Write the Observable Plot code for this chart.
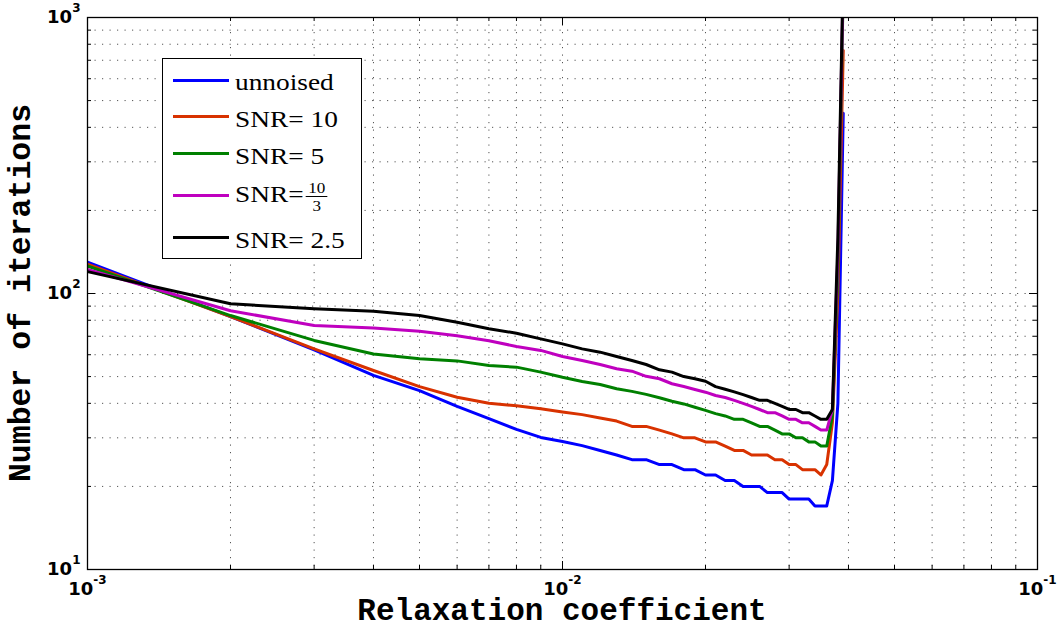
<!DOCTYPE html>
<html><head><meta charset="utf-8">
<script src="https://cdn.jsdelivr.net/npm/d3@7"></script>
<script src="https://cdn.jsdelivr.net/npm/@observablehq/plot@0.6"></script>
<style>
body{margin:0;background:#fff;}
#wrap{position:relative;width:1064px;height:630px;}
#legend{position:absolute;left:162px;top:58px;width:200px;height:201px;border:1.5px solid #000;background:#fff;box-sizing:border-box;font-family:"Liberation Serif","Times New Roman",serif;font-size:24px;color:#000;}
.row{position:absolute;left:9.5px;height:30px;width:185px;}
.sw{position:absolute;left:0;top:13.5px;width:56px;height:3px;}
.lab{position:absolute;left:62px;top:2px;line-height:30px;white-space:nowrap;transform:scaleX(1.14);transform-origin:0 50%;}
.lab.fr{top:-1px;}
.frac{display:inline-block;vertical-align:middle;text-align:center;font-size:15px;line-height:14px;margin-left:2px;}
.frac span{display:block;}
.frac .num{border-bottom:1.4px solid #000;padding:0 2px 1px;}
.frac .den{padding-top:2px;}
</style></head>
<body><div id="wrap"></div>
<script>
// ---- data ----
const relax = [0.001,0.002,0.003,0.004,0.005,0.006,0.007,0.008,0.009,0.010,
  0.011,0.012,0.013,0.014,0.015,0.016,0.017,0.018,0.019,0.020,
  0.021,0.022,0.023,0.024,0.025,0.026,0.027,0.028,0.029,0.030,
  0.031,0.032,0.033,0.034,0.035,0.036,0.037,0.038,0.039];
const unnoised = [130,82.5,62.5,50.5,44.5,39,35.2,32.2,30.1,29.1,
  28.1,27,26,25,25,24,24,23,23,22,
  22,21,21,20,20,20,19,19,19,18,
  18,18,18,17,17,17,21,40,450];
const snr10 = [127.7,82.5,63,52.6,46,42.1,40,39.2,38.2,37.2,
  36.4,35.4,34.5,33,33,32,31,30,30,29,
  29,28,27,27,26,26,26,25,25,24,
  24,23,23,23,22,24,34,100,760];
const snr5 = [125.8,83.2,67.6,60.4,58,57,54.8,54.1,51.9,49.7,
  48,46.8,45.2,44.2,43.1,41.9,40.7,39.8,38.7,37.7,
  36.7,36,35,35,34,33,33,32,31,31,
  30,30,29,29,28,28,36,120,1300];
const snr10over3 = [122.3,86.6,76.6,75,73,70.3,67.4,64.3,62.2,59.1,
  57.2,55.3,53.4,52.3,50.1,49.1,47.1,46,44.9,43.9,
  42.7,42,41,40,39,38,37,37,36,35,
  35,34,34,33,32,32,38,140,1400];
const snr25 = [120,91.8,88,86.3,83.2,78.7,74.5,71.8,68.5,65.7,
  63,61.3,59.1,57.2,55.3,52.9,51.9,50,49.1,48.1,
  46,45,44,43,42,41,41,40,39,38,
  38,37,37,36,35,35,38,160,1500];
const seriesNames = ["unnoised","SNR= 10","SNR= 5","SNR=10/3","SNR= 2.5"];
const seriesColors = ["#0000ff","#d83200","#008000","#bf00bf","#000000"];
const seriesValues = [unnoised, snr10, snr5, snr10over3, snr25];
const xMajorTicks = [0.001,0.01,0.1];
const xMinorTicks = [0.002,0.003,0.004,0.005,0.006,0.007,0.008,0.009,0.02,0.03,0.04,0.05,0.06,0.07,0.08,0.09];
const yMajorTicks = [10,100,1000];
const yMinorTicks = [20,30,40,50,60,70,80,90,200,300,400,500,600,700,800,900];
const xLabel = "Relaxation coefficient";
const yLabel = "Number of iterations";

// ---- build table ----
const rows = [];
seriesValues.forEach((vals, s) => vals.forEach((v, i) => rows.push({x: relax[i], y: v, series: seriesNames[s]})));

const W = 1064, H = 630, mL = 87, mR = 27, mT = 17, mB = 61;
const fw = W - mL - mR, fh = H - mT - mB;
const gridStyle = {stroke: "#555", strokeOpacity: 1, strokeWidth: 1, strokeDasharray: "1.2,6.3"};
const expFmt = d => String(Math.round(Math.log10(d)));
const tickFont = {fontSize: 18, fontWeight: "bold", fontFamily: "DejaVu Sans, Verdana, sans-serif", fill: "#000"};

const svg = Plot.plot({
  width: W, height: H,
  marginLeft: mL, marginRight: mR, marginTop: mT, marginBottom: mB,
  style: {background: "#fff", color: "#000"},
  x: {type: "log", domain: [0.001, 0.1], axis: null},
  y: {type: "log", domain: [10, 1000], axis: null},
  color: {domain: seriesNames, range: seriesColors},
  marks: [
    Plot.gridX([...xMinorTicks, ...xMajorTicks], gridStyle),
    Plot.gridY([...yMinorTicks, ...yMajorTicks], gridStyle),
    Plot.line(rows, {x: "x", y: "y", z: "series", stroke: "series", strokeWidth: 3, clip: true, strokeLinejoin: "round"}),
    // inward ticks on all four sides
    Plot.tickX(xMajorTicks, {x: d => d, insetTop: fh - 8, stroke: "#000"}),
    Plot.tickX(xMajorTicks, {x: d => d, insetBottom: fh - 8, stroke: "#000"}),
    Plot.tickX(xMinorTicks, {x: d => d, insetTop: fh - 4, stroke: "#000"}),
    Plot.tickX(xMinorTicks, {x: d => d, insetBottom: fh - 4, stroke: "#000"}),
    Plot.tickY(yMajorTicks, {y: d => d, insetRight: fw - 8, stroke: "#000"}),
    Plot.tickY(yMajorTicks, {y: d => d, insetLeft: fw - 8, stroke: "#000"}),
    Plot.tickY(yMinorTicks, {y: d => d, insetRight: fw - 4, stroke: "#000"}),
    Plot.tickY(yMinorTicks, {y: d => d, insetLeft: fw - 4, stroke: "#000"}),
    // tick labels (exponent text, turned into 10^n below)
    Plot.text(xMajorTicks, {x: d => d, text: expFmt, frameAnchor: "bottom", lineAnchor: "top", dy: 13, ...tickFont}),
    Plot.text(yMajorTicks, {y: d => d, text: expFmt, frameAnchor: "left", textAnchor: "end", lineAnchor: "middle", dx: -7, ...tickFont}),
    Plot.frame({stroke: "#000", strokeWidth: 1.3})
  ]
});

// superscript exponents on the tick labels
const sel = d3.select(svg);
sel.selectAll('g[aria-label="text"] text').each(function() {
  const t = d3.select(this);
  const e = t.text();
  t.text(null);
  t.append("tspan").text("10");
  t.append("tspan").attr("dy", -11).attr("font-size", 12).text(e);
});

// axis titles
sel.append("text")
  .attr("x", mL + fw / 2).attr("y", 620)
  .attr("text-anchor", "middle")
  .attr("font-family", "Liberation Mono, Courier New, monospace").attr("font-weight", "bold")
  .attr("font-size", 31).attr("fill", "#000").text(xLabel);
sel.append("text")
  .attr("transform", `translate(30,${mT + fh / 2}) rotate(-90)`)
  .attr("text-anchor", "middle")
  .attr("font-family", "Liberation Mono, Courier New, monospace").attr("font-weight", "bold")
  .attr("font-size", 31.5).attr("fill", "#000").text(yLabel);

const wrap = document.getElementById("wrap");
wrap.appendChild(svg);

// legend
const legend = document.createElement("div");
legend.id = "legend";
const centers = [21.2, 57.8, 94.5, 136.2, 178.8];
seriesNames.forEach((name, i) => {
  const r = document.createElement("div");
  r.className = "row";
  r.style.top = (centers[i] - 15) + "px";
  const sw = document.createElement("div");
  sw.className = "sw";
  sw.style.background = seriesColors[i];
  r.appendChild(sw);
  const lab = document.createElement("div");
  lab.className = "lab";
  if (name.includes("/")) {
    const [pre, rest] = name.split("=");
    const [num, den] = rest.split("/");
    lab.classList.add("fr");
    lab.innerHTML = `${pre}=<span class="frac"><span class="num">${num}</span><span class="den">${den}</span></span>`;
  } else {
    lab.textContent = name;
  }
  r.appendChild(lab);
  legend.appendChild(r);
});
wrap.appendChild(legend);
</script>
</body></html>
